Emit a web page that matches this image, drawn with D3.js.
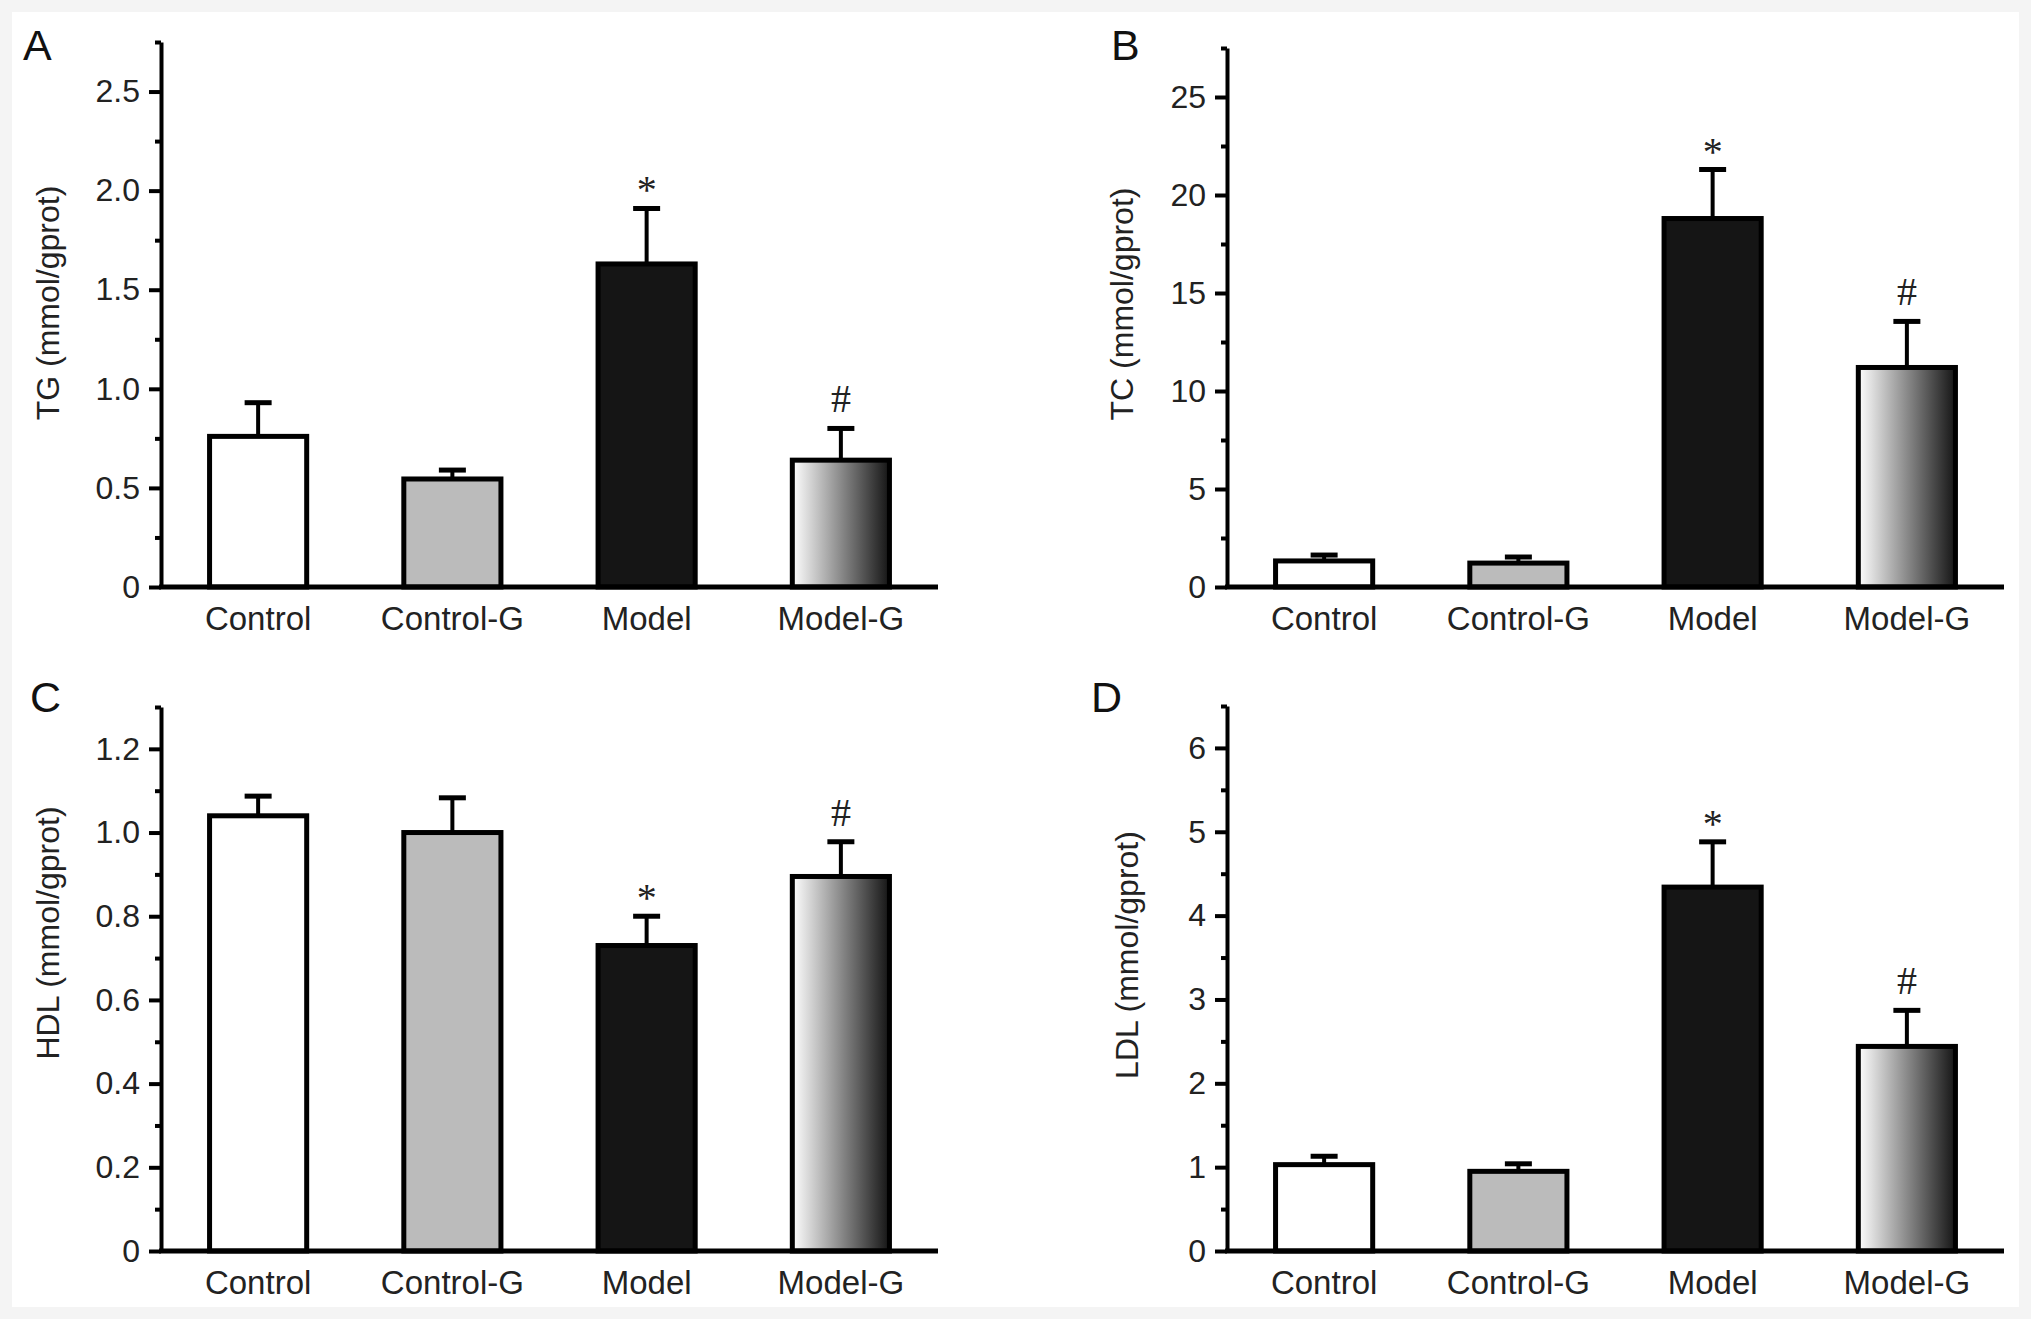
<!DOCTYPE html>
<html>
<head>
<meta charset="utf-8">
<script src="https://cdn.jsdelivr.net/npm/d3@7"></script>
<style>
  html, body { margin: 0; padding: 0; background: #f4f4f4; }
  svg { display: block; }
</style>
</head>
<body>
<div id="chart"></div>
<script>
const W = 2031, H = 1319;

// groups on the x axis
const groups = ["Control", "Control-G", "Model", "Model-G"];

// means and upper error bar ends
const tgMean = [0.76, 0.545, 1.63, 0.64];
const tgTop = [0.93, 0.59, 1.91, 0.80];
const tcMean = [1.33, 1.22, 18.8, 11.2];
const tcTop = [1.63, 1.53, 21.3, 13.55];
const hdlMean = [1.04, 1.0, 0.73, 0.895];
const hdlTop = [1.087, 1.083, 0.80, 0.978];
const ldlMean = [1.03, 0.95, 4.34, 2.44];
const ldlTop = [1.13, 1.04, 4.88, 2.87];

// significance marks
const marks = ["", "", "*", "#"];

// axis ticks
const tgTicks = [0, 0.5, 1.0, 1.5, 2.0, 2.5];
const tcTicks = [0, 5, 10, 15, 20, 25];
const hdlTicks = [0, 0.2, 0.4, 0.6, 0.8, 1.0, 1.2];
const ldlTicks = [0, 1, 2, 3, 4, 5, 6];

const fills = ["#ffffff", "#bbbbbb", "#151515", "url(#grad)"];

const svg = d3.select("#chart").append("svg")
  .attr("width", W)
  .attr("height", H);

// outer light frame + white page
svg.append("rect").attr("width", W).attr("height", H).attr("fill", "#f4f4f4");
svg.append("rect").attr("x", 12).attr("y", 12)
  .attr("width", W - 24).attr("height", H - 24).attr("fill", "#ffffff");

const grad = svg.append("defs").append("linearGradient")
  .attr("id", "grad")
  .attr("x1", "0%").attr("x2", "100%").attr("y1", "0%").attr("y2", "0%");
grad.append("stop").attr("offset", "0%").attr("stop-color", "#ffffff");
grad.append("stop").attr("offset", "50%").attr("stop-color", "#8a8a8a");
grad.append("stop").attr("offset", "100%").attr("stop-color", "#151515");

const panels = [
  { letter: "A", lx: 23, ly: 60, title: "TG (mmol/gprot)", tx: 48, ty: 303,
    x0: 161, x1: 938, top: 42, base: 587, max: 2.75, ticks: tgTicks, minor: 0.25,
    mean: tgMean, hi: tgTop, fmt: d => d === 0 ? "0" : d.toFixed(1) },
  { letter: "B", lx: 1111, ly: 60, title: "TC (mmol/gprot)", tx: 1122, ty: 304,
    x0: 1227, x1: 2004, top: 48, base: 587, max: 27.5, ticks: tcTicks, minor: 2.5,
    mean: tcMean, hi: tcTop, fmt: d => String(d) },
  { letter: "C", lx: 30, ly: 712, title: "HDL (mmol/gprot)", tx: 48, ty: 933,
    x0: 161, x1: 938, top: 707, base: 1251, max: 1.3, ticks: hdlTicks, minor: 0.1,
    mean: hdlMean, hi: hdlTop, fmt: d => d === 0 ? "0" : d.toFixed(1) },
  { letter: "D", lx: 1091, ly: 712, title: "LDL (mmol/gprot)", tx: 1127, ty: 955,
    x0: 1227, x1: 2004, top: 706, base: 1251, max: 6.5, ticks: ldlTicks, minor: 0.5,
    mean: ldlMean, hi: ldlTop, fmt: d => String(d) }
];

const sans = "'Liberation Sans', Arial, Helvetica, sans-serif";
const serif = "'Liberation Serif', 'Times New Roman', serif";

panels.forEach(p => {
  const g = svg.append("g");

  const x = d3.scaleBand()
    .domain(groups)
    .range([p.x0, p.x1])
    .paddingInner(0.5)
    .paddingOuter(0.25);

  const y = d3.scaleLinear()
    .domain([0, p.max])
    .range([p.base, p.top]);

  // minor ticks
  const minorVals = d3.range(0, p.max + 1e-9, p.minor)
    .filter(v => !p.ticks.some(t => Math.abs(t - v) < 1e-9));
  g.append("g")
    .attr("transform", `translate(${p.x0},0)`)
    .call(d3.axisLeft(y).tickValues(minorVals).tickSize(6).tickFormat("").tickSizeOuter(0))
    .call(a => a.select(".domain").remove())
    .call(a => a.selectAll("line").attr("stroke", "#000").attr("stroke-width", 4));

  const data = groups.map((k, i) => ({ k, m: p.mean[i], hi: p.hi[i], i }));

  // error bars (upper only)
  g.selectAll(".err").data(data).enter().append("line")
    .attr("x1", d => x(d.k) + x.bandwidth() / 2)
    .attr("x2", d => x(d.k) + x.bandwidth() / 2)
    .attr("y1", d => y(d.m))
    .attr("y2", d => y(d.hi))
    .attr("stroke", "#000").attr("stroke-width", 4);
  g.selectAll(".cap").data(data).enter().append("line")
    .attr("x1", d => x(d.k) + x.bandwidth() / 2 - 13.5)
    .attr("x2", d => x(d.k) + x.bandwidth() / 2 + 13.5)
    .attr("y1", d => y(d.hi))
    .attr("y2", d => y(d.hi))
    .attr("stroke", "#000").attr("stroke-width", 5);

  // bars
  g.selectAll(".bar").data(data).enter().append("rect")
    .attr("x", d => x(d.k))
    .attr("width", x.bandwidth())
    .attr("y", d => y(d.m))
    .attr("height", d => y(0) - y(d.m))
    .attr("fill", d => fills[d.i])
    .attr("stroke", "#000")
    .attr("stroke-width", 5);

  // significance marks
  g.selectAll(".mark").data(data.filter(d => marks[d.i])).enter().append("text")
    .attr("x", d => x(d.k) + x.bandwidth() / 2)
    .attr("y", d => y(d.hi) - (marks[d.i] === "*" ? 5 : 16))
    .attr("text-anchor", "middle")
    .attr("font-family", serif)
    .attr("font-size", 40)
    .attr("fill", "#222")
    .text(d => marks[d.i]);

  // y axis
  g.append("g")
    .attr("transform", `translate(${p.x0},0)`)
    .call(d3.axisLeft(y).tickValues(p.ticks).tickFormat(p.fmt).tickSize(12).tickSizeOuter(0).tickPadding(9))
    .call(a => a.select(".domain").attr("stroke", "#000").attr("stroke-width", 4))
    .call(a => a.selectAll("line").attr("stroke", "#000").attr("stroke-width", 4))
    .call(a => a.selectAll("text")
      .attr("font-family", sans).attr("font-size", 32).attr("fill", "#222"));

  // x axis
  g.append("g")
    .attr("transform", `translate(0,${p.base})`)
    .call(d3.axisBottom(x).tickSize(0).tickPadding(20).tickSizeOuter(0))
    .call(a => a.select(".domain").attr("stroke", "#000").attr("stroke-width", 5)
      .attr("d", `M${p.x0 - 2},0H${p.x1}`))
    .call(a => a.selectAll("text")
      .attr("font-family", sans).attr("font-size", 33).attr("fill", "#222")
      .attr("dy", "0.71em"));

  // y title
  g.append("text")
    .attr("transform", `translate(${p.tx},${p.ty}) rotate(-90)`)
    .attr("text-anchor", "middle")
    .attr("dy", "0.35em")
    .attr("font-family", sans)
    .attr("font-size", 32)
    .attr("fill", "#222")
    .text(p.title);

  // panel letter
  g.append("text")
    .attr("x", p.lx).attr("y", p.ly)
    .attr("font-family", sans)
    .attr("font-size", 43)
    .attr("fill", "#111")
    .text(p.letter);
});
</script>
</body>
</html>
